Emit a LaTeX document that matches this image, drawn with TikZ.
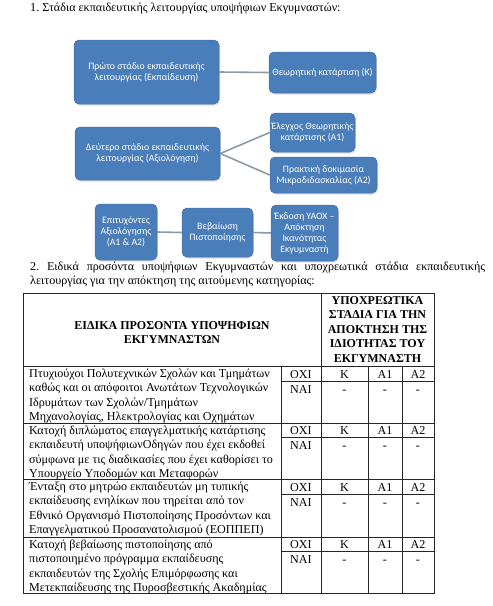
\documentclass[tikz,border=0pt]{standalone}
\usepackage{fontspec}
\setmainfont{Liberation Serif}
\newfontfamily\stagefont{Carlito}
\usetikzlibrary{shadows}
\frenchspacing

\definecolor{stagefill}{HTML}{4A7EBB}
\definecolor{stageedge}{HTML}{3F6EA6}
\definecolor{linkgray}{HTML}{8E99A6}

\tikzset{
  stage/.style={draw=stageedge, line width=0.5pt, fill=stagefill, rounded corners=5pt,
    text=white, align=center, inner sep=1pt,
    font=\stagefont\fontsize{9.8}{11}\selectfont,
    drop shadow={opacity=0.25, shadow xshift=0.8pt, shadow yshift=-1.6pt}},
  link/.style={draw=linkgray, line width=1.6pt},
  body/.style={font=\fontsize{12.1}{14.2}\selectfont, inner sep=0pt},
  cell/.style={body, align=left, anchor=north west},
  val/.style={body, anchor=base},
  head/.style={font=\bfseries\fontsize{12}{14.5}\selectfont, inner sep=0pt, align=center},
  grid/.style={line width=0.8pt, black!85}
}

\begin{document}
\begin{tikzpicture}[x=1pt,y=-1pt]
\useasboundingbox (0,0) rectangle (493,606);

% stages
\node[body, anchor=west] (title1) at (30,9) {1. Στάδια εκπαιδευτικής λειτουργίας υποψήφιων Εκγυμναστών:};

\node[stage, minimum width=145pt, minimum height=64pt] (first) at (146.5,72) {Πρώτο στάδιο εκπαιδευτικής\\λειτουργίας (Εκπαίδευση)};
\node[stage, minimum width=107pt, minimum height=41pt] (theory) at (322.5,72.5) {Θεωρητική κατάρτιση (Κ)};
\draw[link] (first.east) -- (theory.west);

\node[stage, minimum width=145pt, minimum height=53pt] (second) at (147.5,153.5) {Δεύτερο στάδιο εκπαιδευτικής\\λειτουργίας (Αξιολόγηση)};
\node[stage, minimum width=85pt, minimum height=39pt] (checkA) at (312.5,132.5) {Έλεγχος Θεωρητικής\\κατάρτισης (Α1)};
\node[stage, minimum width=107pt, minimum height=36pt] (checkB) at (323.5,175) {Πρακτική δοκιμασία\\Μικροδιδασκαλίας (Α2)};
\draw[link] (second.east) -- (checkA.west);
\draw[link] (second.east) -- (checkB.west);

\node[stage, minimum width=62pt, minimum height=56pt] (passed) at (126,232) {Επιτυχόντες\\Αξιολόγησης\\(Α1 \& Α2)};
\node[stage, minimum width=71pt, minimum height=49pt] (certif) at (217.5,232.5) {Βεβαίωση\\Πιστοποίησης};
\node[stage, minimum width=67pt, minimum height=56pt] (issue) at (304.5,233) {Έκδοση ΥΑΟΧ –\\Απόκτηση\\Ικανότητας\\Εκγυμναστή};
\draw[link] (passed.east) -- (certif.west);
\draw[link] (certif.east) -- (issue.west);

% table
\node[body, anchor=north west, text width=455pt, align=justify] (title2) at (30,262) {2. Ειδικά προσόντα υποψήφιων Εκγυμναστών και υποχρεωτικά στάδια εκπαιδευτικής\linebreak λειτουργίας για την απόκτηση της αιτούμενης κατηγορίας:};

\draw[grid] (23,293) rectangle (434,593);
\draw[grid] (321,293) -- (321,593);
\draw[grid] (23,366) -- (434,366);
\node[head] (headL) at (172,332.5) {ΕΙΔΙΚΑ ΠΡΟΣΟΝΤΑ ΥΠΟΨΗΦΙΩΝ\\ΕΚΓΥΜΝΑΣΤΩΝ};
\node[head] (headR) at (377.5,329.5) {ΥΠΟΧΡΕΩΤΙΚΑ\\ΣΤΑΔΙΑ ΓΙΑ ΤΗΝ\\ΑΠΟΚΤΗΣΗ ΤΗΣ\\ΙΔΙΟΤΗΤΑΣ ΤΟΥ\\ΕΚΓΥΜΝΑΣΤΗ};

\foreach \t/\s/\b in {366/381/423, 423/437/479, 479/494/537, 537/551/593} {
  \draw[grid] (23,\b) -- (434,\b);
  \draw[grid] (281,\t) -- (281,\b);
  \draw[grid] (368,\t) -- (368,\b);
  \draw[grid] (402,\t) -- (402,\b);
  \draw[grid] (281,\s) -- (434,\s);
  \node[val] (no\t) at (301,\s-3) {ΟΧΙ};
  \node[val] (k\t) at (344.5,\s-3) {Κ};
  \node[val] (ai\t) at (385,\s-3) {Α1};
  \node[val] (aii\t) at (418,\s-3) {Α2};
  \node[val] (yes\t) at (301,\s+12) {ΝΑΙ};
  \node[val] (dk\t) at (344.5,\s+12) {-};
  \node[val] (dai\t) at (385,\s+12) {-};
  \node[val] (daii\t) at (418,\s+12) {-};
}

\node[cell] (rowA) at (29,369) {Πτυχιούχοι Πολυτεχνικών Σχολών και Τμημάτων\\καθώς και οι απόφοιτοι Ανωτάτων Τεχνολογικών\\Ιδρυμάτων των Σχολών/Τμημάτων\\Μηχανολογίας, Ηλεκτρολογίας και Οχημάτων};
\node[cell] (rowB) at (29,426) {Κατοχή διπλώματος επαγγελματικής κατάρτισης\\εκπαιδευτή υποψήφιωνΟδηγών που έχει εκδοθεί\\σύμφωνα με τις διαδικασίες που έχει καθορίσει το\\Υπουργείο Υποδομών και Μεταφορών};
\node[cell] (rowC) at (29,482) {Ένταξη στο μητρώο εκπαιδευτών μη τυπικής\\εκπαίδευσης ενηλίκων που τηρείται από τον\\Εθνικό Οργανισμό Πιστοποίησης Προσόντων και\\Επαγγελματικού Προσανατολισμού (ΕΟΠΠΕΠ)};
\node[cell] (rowD) at (29,540) {Κατοχή βεβαίωσης πιστοποίησης από\\πιστοποιημένο πρόγραμμα εκπαίδευσης\\εκπαιδευτών της Σχολής Επιμόρφωσης και\\Μετεκπαίδευσης της Πυροσβεστικής Ακαδημίας};

\end{tikzpicture}
\end{document}
